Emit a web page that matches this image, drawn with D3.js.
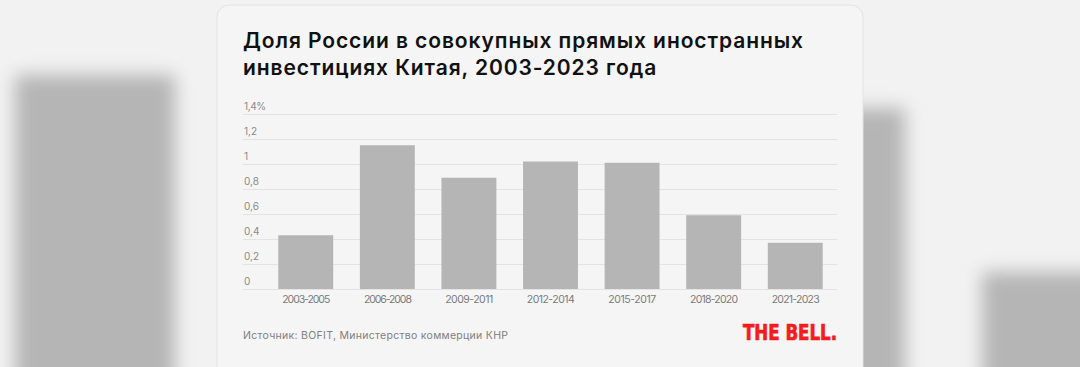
<!DOCTYPE html>
<html><head><meta charset="utf-8">
<script src="https://cdn.jsdelivr.net/npm/d3@7"></script>
<style>html,body{margin:0;padding:0;background:#f2f2f2;overflow:hidden}</style>
</head><body><svg id="c" width="1080" height="367"></svg>
<script>
const categories = ["2003-2005","2006-2008","2009-2011","2012-2014","2015-2017","2018-2020","2021-2023"];
const values = [0.43, 1.15, 0.89, 1.02, 1.01, 0.59, 0.37];
const yTicks = [0, 0.2, 0.4, 0.6, 0.8, 1.0, 1.2, 1.4];
const yTickLabels = ["0", "0,2", "0,4", "0,6", "0,8", "1", "1,2", "1,4%"];
const titleLines = ["Доля России в совокупных прямых иностранных", "инвестициях Китая, 2003-2023 года"];
const sourceText = "Источник: BOFIT, Министерство коммерции КНР";
const logoText = "THE BELL.";

const svg = d3.select("#c");
const defs = svg.append("defs");
defs.append("filter").attr("id","blur").attr("x","-50%").attr("y","-50%").attr("width","200%").attr("height","200%")
  .append("feGaussianBlur").attr("stdDeviation", 9);

function fit(sel, target) {
  sel.each(function(){
    const n = this.textContent.length;
    const w = this.getComputedTextLength();
    d3.select(this).attr("letter-spacing", ((target - w) / Math.max(1, n - 1)).toFixed(3));
  });
}

// blurred background shapes
const bg = svg.append("g").attr("filter","url(#blur)");
bg.append("rect").attr("x",15).attr("y",75).attr("width",160).attr("height",360).attr("fill","#b5b5b5");
bg.append("rect").attr("x",830).attr("y",108).attr("width",75).attr("height",330).attr("fill","#b5b5b5");
bg.append("rect").attr("x",982).attr("y",272).attr("width",140).attr("height",160).attr("fill","#b5b5b5");

// card
svg.append("rect").attr("x",217).attr("y",5).attr("width",646).attr("height",420).attr("rx",12)
  .attr("fill","#f5f5f5").attr("stroke","#e3e3e3").attr("stroke-width",1);

// title
const title = svg.append("text").attr("font-family","Inter, Roboto, sans-serif")
  .attr("font-weight",600).attr("font-size",21).attr("fill","#111");
const tl = title.selectAll("tspan").data(titleLines).join("tspan")
  .attr("x",243).attr("y",(d,i)=>48 + i*26.5).text(d=>d);
// fit first line to reference width; apply same spacing to second
{
  const node = tl.nodes()[0];
  const w = node.getComputedTextLength();
  const ls = (560 - w) / (titleLines[0].length - 1);
  title.attr("letter-spacing", ls.toFixed(3));
}

// scales
const x = d3.scaleBand().domain(categories).range([265, 836]).paddingInner(0.327).paddingOuter(0.163);
const y = d3.scaleLinear().domain([0, 1.4]).range([289, 114]);

// grid + y labels
const yAxis = d3.axisLeft(y).tickValues(yTicks).tickSize(-(837-243)).tickFormat((d,i)=>yTickLabels[i]);
const gy = svg.append("g").attr("transform","translate(243,0)").call(yAxis);
gy.select(".domain").remove();
gy.selectAll(".tick line").attr("stroke","#e3e3e3").attr("stroke-width",1.2);
gy.selectAll(".tick text").attr("x",1).attr("dy",-4.5).attr("text-anchor","start")
  .attr("font-family","Inter, Roboto, sans-serif").attr("font-size",10).attr("fill","#8a8a8a");
fit(gy.selectAll(".tick text").filter((d,i)=>i===7), 22);

// bars
svg.append("g").selectAll("rect").data(values).join("rect")
  .attr("x",(d,i)=>x(categories[i])).attr("width",x.bandwidth())
  .attr("y",d=>y(d)).attr("height",d=>y(0)-y(d)).attr("fill","#b5b5b5");

// x axis labels
const xAxis = d3.axisBottom(x).tickSize(0).tickPadding(0);
const gx = svg.append("g").attr("transform","translate(0,289)").call(xAxis);
gx.select(".domain").remove();
gx.selectAll(".tick text").attr("dy",0).attr("y",14)
  .attr("font-family","Inter, Roboto, sans-serif").attr("font-size",10.5).attr("fill","#7a7a7a");
fit(gx.selectAll(".tick text"), 48);

// source
const src = svg.append("text").attr("x",243).attr("y",339).text(sourceText)
  .attr("font-family","Inter, Roboto, sans-serif").attr("font-size",10.5).attr("fill","#808080");
fit(src, 265);

// logo
svg.append("text").attr("x",743).attr("y",339.5).text(logoText)
  .attr("font-family","'DejaVu Sans Condensed', 'DejaVu Sans', sans-serif").attr("font-weight",700)
  .attr("font-size",21.5).attr("fill","#f41c1c").attr("stroke","#f41c1c").attr("stroke-width",0.7)
  .attr("textLength",94).attr("lengthAdjust","spacingAndGlyphs");
</script></body></html>
